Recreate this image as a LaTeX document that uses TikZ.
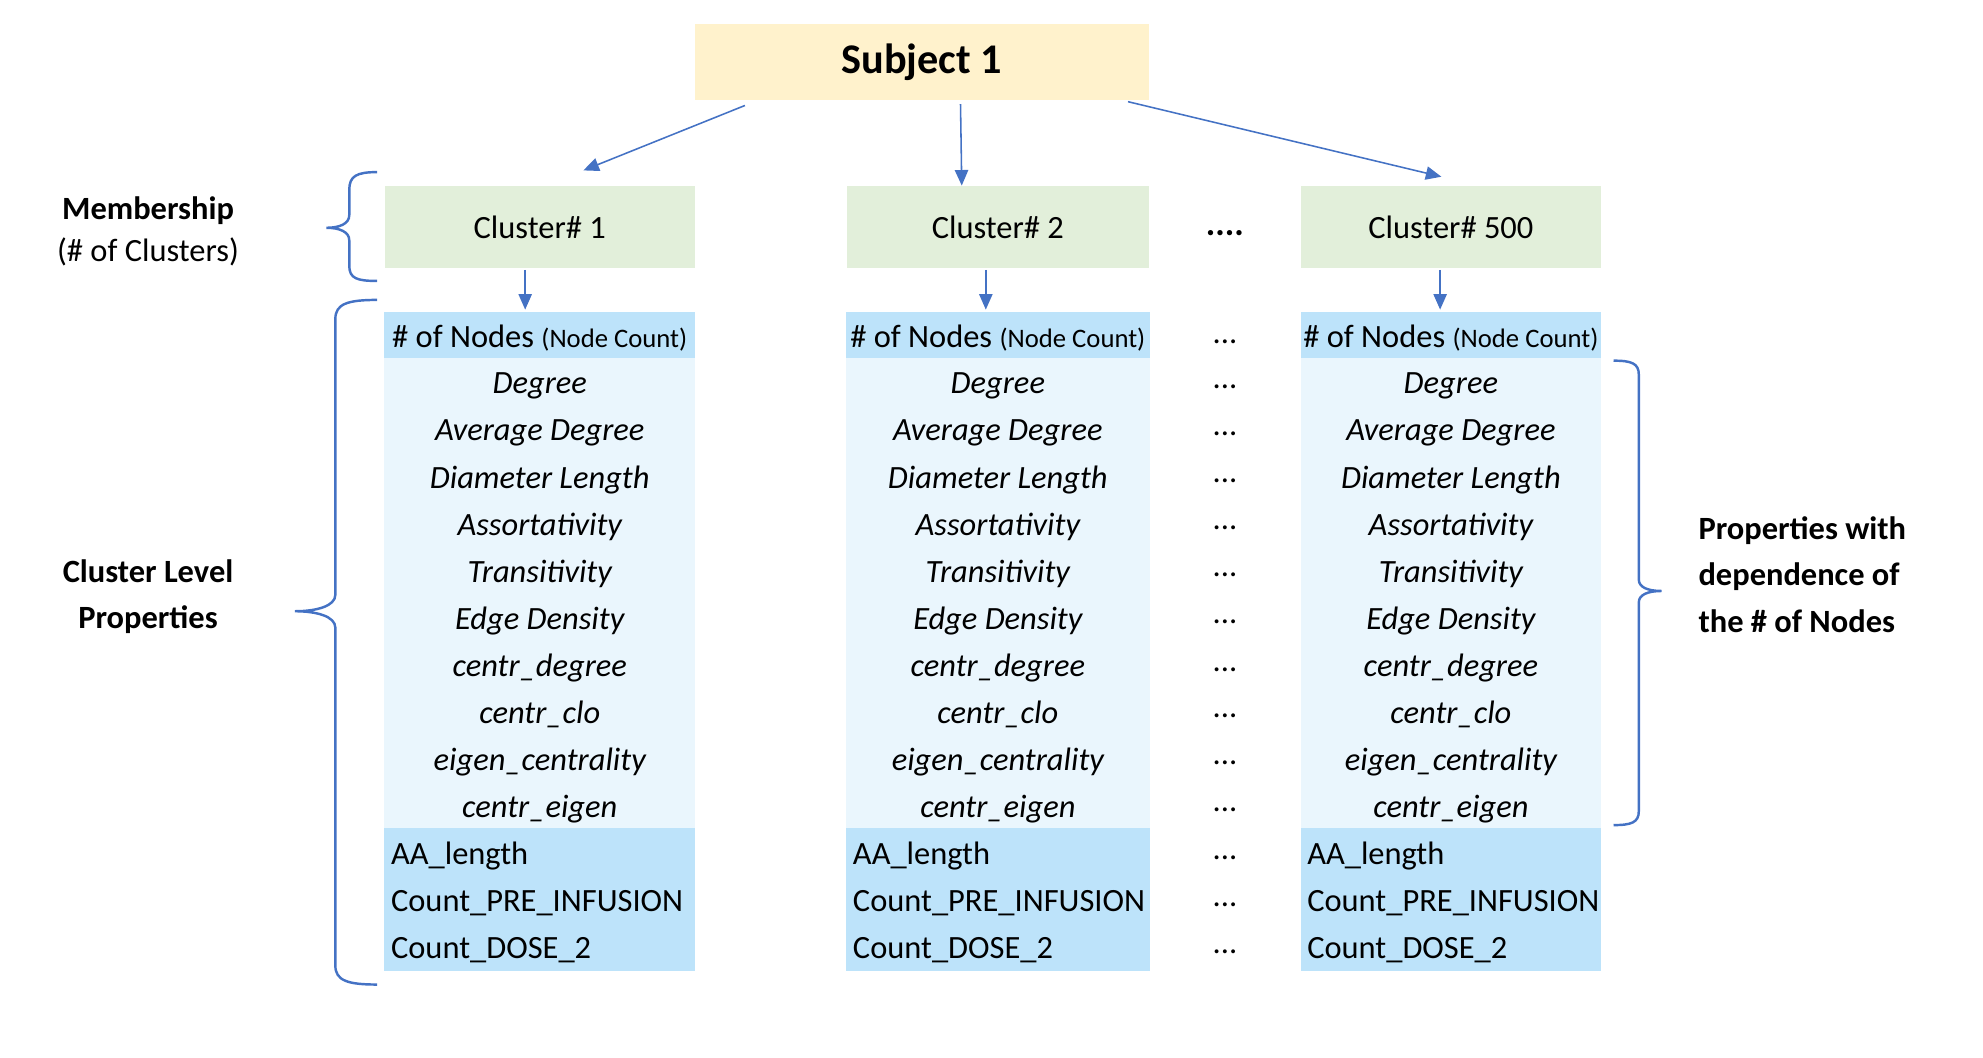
\documentclass[tikz,border=0pt]{standalone}
\usepackage{fontspec}
\setmainfont{Carlito}
\usetikzlibrary{arrows.meta}

\definecolor{subjfill}{HTML}{FFF2CC}
\definecolor{clufill}{HTML}{E2EFDA}
\definecolor{headfill}{HTML}{BDE3FA}
\definecolor{rowfill}{HTML}{EAF6FD}
\definecolor{linkblue}{HTML}{4472C4}

\tikzset{
  txt/.style={font=\fontsize{14.6pt}{17pt}\selectfont},
  cell/.style={inner sep=0pt, minimum height=0.744cm, text height=2.3ex, text depth=0ex},
  head/.style={cell, txt, fill=headfill, draw=headfill, minimum width=#1, minimum height=0.72cm},
  crow/.style={cell, fill=rowfill, draw=rowfill, minimum width=#1, font=\fontsize{14.6pt}{17pt}\selectfont\itshape},
  lrow/.style={cell, txt, fill=headfill, draw=headfill, text width=#1, align=left, inner xsep=0.1cm},
  clu/.style={txt, fill=clufill, minimum width=#1, minimum height=1.3cm, inner sep=0pt},
  subj/.style={fill=subjfill, minimum width=7.18cm, minimum height=1.2cm, font=\fontsize{19pt}{22pt}\selectfont\bfseries},
  gap/.style={txt},
  link/.style={linkblue, line width=0.7pt, -{Triangle[length=7pt,width=6pt]}},
  curly/.style={linkblue, line width=1.1pt}
}

\begin{document}
\begin{tikzpicture}[x=0.02cm, y=-0.02cm]
    \useasboundingbox (0,0) rectangle (1567,835.3);

    \node[subj] (0) at (728.5,49) {Subject 1};

    \node[clu=4.9cm] (1) at (426.5,179.5) {Cluster\# 1};
    \node[clu=4.78cm] (2) at (788.5,179.5) {Cluster\# 2};
    \node[clu=4.74cm] (3) at (1146.5,179.5) {Cluster\# 500};
    \node[gap, font=\fontsize{16pt}{18pt}\selectfont\bfseries] (4) at (968,184) {....};

    %column 1
    \node[head=4.9cm] (10) at (426.5,265) {\# of Nodes {\fontsize{12pt}{14pt}\selectfont(Node Count)}};
    \node[crow=4.9cm] (11) at (426.5,301.6) {Degree};
    \node[crow=4.9cm] (12) at (426.5,338.8) {Average Degree};
    \node[crow=4.9cm] (13) at (426.5,376) {Diameter Length};
    \node[crow=4.9cm] (14) at (426.5,413.2) {Assortativity};
    \node[crow=4.9cm] (15) at (426.5,450.4) {Transitivity};
    \node[crow=4.9cm] (16) at (426.5,487.6) {Edge Density};
    \node[crow=4.9cm] (17) at (426.5,524.8) {centr\_degree};
    \node[crow=4.9cm] (18) at (426.5,562) {centr\_clo};
    \node[crow=4.9cm] (19) at (426.5,599.2) {eigen\_centrality};
    \node[crow=4.9cm] (20) at (426.5,636.4) {centr\_eigen};
    \node[lrow=4.7cm] (21) at (426.5,673.6) {AA\_length};
    \node[lrow=4.7cm] (22) at (426.5,710.8) {Count\_PRE\_INFUSION};
    \node[lrow=4.7cm] (23) at (426.5,748) {Count\_DOSE\_2};

    %column 2
    \node[head=4.78cm] (30) at (788.5,265) {\# of Nodes {\fontsize{12pt}{14pt}\selectfont(Node Count)}};
    \node[crow=4.78cm] (31) at (788.5,301.6) {Degree};
    \node[crow=4.78cm] (32) at (788.5,338.8) {Average Degree};
    \node[crow=4.78cm] (33) at (788.5,376) {Diameter Length};
    \node[crow=4.78cm] (34) at (788.5,413.2) {Assortativity};
    \node[crow=4.78cm] (35) at (788.5,450.4) {Transitivity};
    \node[crow=4.78cm] (36) at (788.5,487.6) {Edge Density};
    \node[crow=4.78cm] (37) at (788.5,524.8) {centr\_degree};
    \node[crow=4.78cm] (38) at (788.5,562) {centr\_clo};
    \node[crow=4.78cm] (39) at (788.5,599.2) {eigen\_centrality};
    \node[crow=4.78cm] (40) at (788.5,636.4) {centr\_eigen};
    \node[lrow=4.58cm] (41) at (788.5,673.6) {AA\_length};
    \node[lrow=4.58cm] (42) at (788.5,710.8) {Count\_PRE\_INFUSION};
    \node[lrow=4.58cm] (43) at (788.5,748) {Count\_DOSE\_2};

    %column 500
    \node[head=4.74cm] (50) at (1146.5,265) {\# of Nodes {\fontsize{12pt}{14pt}\selectfont(Node Count)}};
    \node[crow=4.74cm] (51) at (1146.5,301.6) {Degree};
    \node[crow=4.74cm] (52) at (1146.5,338.8) {Average Degree};
    \node[crow=4.74cm] (53) at (1146.5,376) {Diameter Length};
    \node[crow=4.74cm] (54) at (1146.5,413.2) {Assortativity};
    \node[crow=4.74cm] (55) at (1146.5,450.4) {Transitivity};
    \node[crow=4.74cm] (56) at (1146.5,487.6) {Edge Density};
    \node[crow=4.74cm] (57) at (1146.5,524.8) {centr\_degree};
    \node[crow=4.74cm] (58) at (1146.5,562) {centr\_clo};
    \node[crow=4.74cm] (59) at (1146.5,599.2) {eigen\_centrality};
    \node[crow=4.74cm] (60) at (1146.5,636.4) {centr\_eigen};
    \node[lrow=4.54cm] (61) at (1146.5,673.6) {AA\_length};
    \node[lrow=4.54cm] (62) at (1146.5,710.8) {Count\_PRE\_INFUSION};
    \node[lrow=4.54cm] (63) at (1146.5,748) {Count\_DOSE\_2};

    %dots
    \node[gap] (70) at (968,270) {...};
    \node[gap] (71) at (968,306) {...};
    \node[gap] (72) at (968,343) {...};
    \node[gap] (73) at (968,380) {...};
    \node[gap] (74) at (968,417) {...};
    \node[gap] (75) at (968,454) {...};
    \node[gap] (76) at (968,491) {...};
    \node[gap] (77) at (968,529) {...};
    \node[gap] (78) at (968,566) {...};
    \node[gap] (79) at (968,603) {...};
    \node[gap] (80) at (968,640) {...};
    \node[gap] (81) at (968,678) {...};
    \node[gap] (82) at (968,715) {...};
    \node[gap] (83) at (968,752) {...};

    %side labels
    \node[align=center, font=\fontsize{14.6pt}{18.7pt}\selectfont] (90) at (117,183)
        {\textbf{Membership}\\(\# of Clusters)};
    \node[align=center, font=\fontsize{14.6pt}{21pt}\selectfont\bfseries] (91) at (117,471.5)
        {Cluster Level\\Properties};
    \node[align=left, anchor=west, font=\fontsize{14.6pt}{21pt}\selectfont\bfseries] (92) at (1336,454)
        {Properties with\\dependence of\\the \# of Nodes};

    \draw[link] ([shift={(40,4)}]0.south west) -- ([shift={(34.5,-12)}]1.north);
    \draw[link] ([shift={(30.5,3)}]0.south) -- ([shift={(-28.5,0)}]2.north);
    \draw[link] ([shift={(-17,1)}]0.south east) -- ([shift={(-7.5,-7)}]3.north);

    \draw[link] ([shift={(-11.5,1)}]1.south) -- ([shift={(-11.5,-2)}]10.north);
    \draw[link] ([shift={(-9.5,1)}]2.south) -- ([shift={(-9.5,-2)}]30.north);
    \draw[link] ([shift={(-8.5,1)}]3.south) -- ([shift={(-8.5,-2)}]50.north);

    %braces
    \draw[curly] (298,136) .. controls (282,136) and (276,139) .. (276,150) -- (276,170)
        .. controls (276,177) and (268,180) .. (258,180)
        .. controls (268,180) and (276,183) .. (276,190) -- (276,210)
        .. controls (276,220) and (282,222) .. (298,222);
    \draw[curly] (298,237) .. controls (275,237) and (265,240) .. (265,252) -- (265,470)
        .. controls (265,479) and (250,483) .. (233,483)
        .. controls (250,483) and (265,487) .. (265,496) -- (265,763)
        .. controls (265,775) and (275,778) .. (298,778);
    \draw[curly] (1275,285) .. controls (1289,285) and (1295,287) .. (1295,296) -- (1295,458)
        .. controls (1295,464) and (1302,467) .. (1313,467)
        .. controls (1302,467) and (1295,470) .. (1295,476) -- (1295,641)
        .. controls (1295,650) and (1289,652) .. (1275,652);
\end{tikzpicture}
\end{document}
